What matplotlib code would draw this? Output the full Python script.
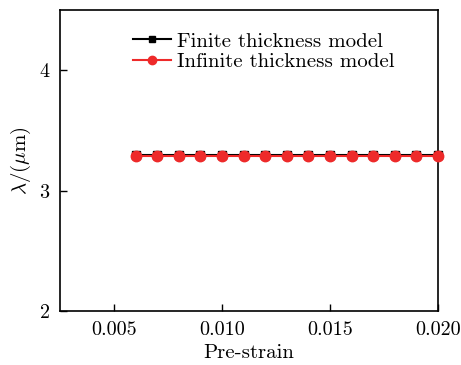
import numpy as np
import matplotlib
matplotlib.use("Agg")
import matplotlib.pyplot as plt

plt.rcParams['font.family'] = 'cmr10'
plt.rcParams['mathtext.fontset'] = 'cm'
plt.rcParams['axes.formatter.use_mathtext'] = True

strain = [0.006, 0.007, 0.008, 0.009, 0.010, 0.011, 0.012, 0.013,
          0.014, 0.015, 0.016, 0.017, 0.018, 0.019, 0.020]
finite = [3.295] * 15
infinite = [3.29] * 15

fig = plt.figure(figsize=(4.61, 3.65), dpi=100)
ax = fig.add_axes([60 / 461, 1 - 311 / 365, 378 / 461, 301 / 365])

ax.plot(strain, finite, color='black', marker='s', markersize=6, lw=1.5,
        label='Finite thickness model', clip_on=False, zorder=3)
ax.plot(strain, infinite, color='#ee2a2a', marker='o', markersize=7.5, lw=1.5,
        label='Infinite thickness model', clip_on=False, zorder=4)

ax.set_xlim(0.0025, 0.020)
ax.set_ylim(2, 4.5)
ax.set_xticks([0.005, 0.010, 0.015, 0.020])
ax.set_xticklabels(['0.005', '0.010', '0.015', '0.020'])
ax.set_yticks([2, 3, 4])
ax.tick_params(direction='in', length=5, width=1, labelsize=14.5, pad=7)
for s in ax.spines.values():
    s.set_linewidth(1.2)

ax.set_xlabel('Pre-strain', fontsize=15, labelpad=4)
ax.set_ylabel(r'$\lambda$/($\mu$m)', fontsize=15, labelpad=4)

leg = ax.legend(loc='upper left', bbox_to_anchor=(0.155, 0.975), frameon=False,
                fontsize=15, handlelength=1.8, handletextpad=0.3,
                labelspacing=0.1, borderpad=0.2, markerscale=0.8)

fig.savefig('out.png', dpi=100)
